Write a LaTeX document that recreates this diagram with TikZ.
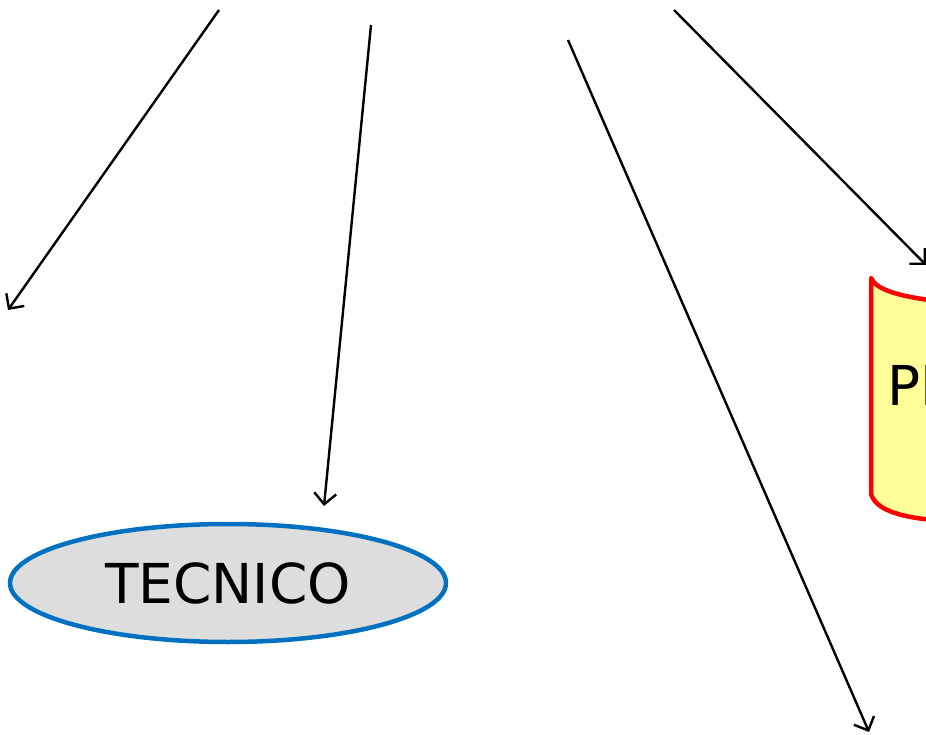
\documentclass[tikz,border=0pt]{standalone}
\usepackage{fontspec}
\setmainfont{DejaVu Sans}
\usetikzlibrary{shapes.geometric,arrows.meta}
\definecolor{ellfill}{HTML}{DDDDDD}
\definecolor{ellborder}{HTML}{0070C0}
\definecolor{scrollfill}{HTML}{FFFF99}
\definecolor{scrollborder}{HTML}{FF0000}
\tikzset{
  conn/.style={line width=2.4pt, -{Straight Barb[length=11pt,width=22pt,line width=2.4pt]}},
  label/.style={font=\fontsize{55}{60}\selectfont, text=black, inner sep=0pt},
}
\begin{document}
\begin{tikzpicture}[x=1pt,y=1pt]
\useasboundingbox (0,0) rectangle (926,-735);
\clip (0,0) rectangle (926,-735);
% yellow shape (cut off at right)
\path[draw=scrollborder, line width=4.5pt, fill=scrollfill, line join=round]
  (871,-278) .. controls (876,-290) and (900,-297) .. (945,-302)
  -- (945,-521) .. controls (900,-518) and (876,-510) .. (871,-494) -- cycle;
\node[label, anchor=base west] (pr) at (887,-405) {PR};
% ellipse
\node[ellipse, draw=ellborder, fill=ellfill, line width=4.5pt, minimum width=436pt, minimum height=118pt, inner sep=0pt, label] (tec) at (228,-583) {TECNICO};
% connector endpoints
\coordinate (s1) at (219,-10);  \coordinate (e1) at (8,-310);
\coordinate (s2) at (371,-25);  \coordinate (e2) at (324,-506);
\coordinate (s3) at (568,-40);  \coordinate (e3) at (869,-732);
\coordinate (s4) at (674,-10);  \coordinate (e4) at (926,-265);
\draw[conn] (s1) -- (e1);
\draw[conn] (s2) -- (e2);
\draw[conn] (s3) -- (e3);
\draw[conn] (s4) -- (e4);
\end{tikzpicture}
\end{document}
